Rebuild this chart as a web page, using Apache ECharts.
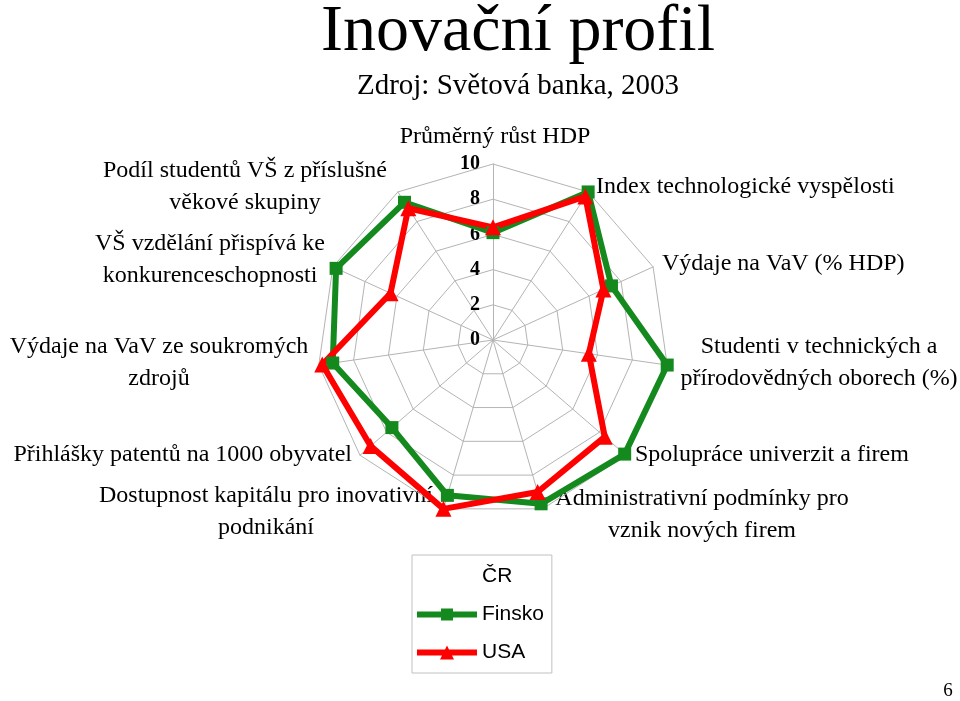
<!DOCTYPE html>
<html>
<head>
<meta charset="utf-8">
<title>Inovační profil</title>
<script src="https://cdn.jsdelivr.net/npm/echarts@6/dist/echarts.min.js"></script>
<style>
  html, body { margin: 0; padding: 0; background: #fff; }
  #radar-chart { width: 960px; height: 701px; }
</style>
</head>
<body>
<div id="radar-chart"></div>
<script>
// osy v pořadí po směru hodinových ručiček, začíná se nahoře
var labels = [
    'Průměrný růst HDP',
    'Index technologické vyspělosti',
    'Výdaje na VaV (% HDP)',
    'Studenti v technických a\npřírodovědných oborech (%)',
    'Spolupráce univerzit a firem',
    'Administrativní podmínky pro\nvznik nových firem',
    'Dostupnost kapitálu pro inovativní\npodnikání',
    'Přihlášky patentů na 1000 obyvatel',
    'Výdaje na VaV ze soukromých\nzdrojů',
    'VŠ vzdělání přispívá ke\nkonkurenceschopnosti',
    'Podíl studentů VŠ z příslušné\nvěkové skupiny'
];
var seriesNames = ['ČR', 'Finsko', 'USA'];
var cr = [];
var finsko = [6.1, 10.0, 7.4, 10.0, 9.9, 9.7, 9.2, 7.6, 9.2, 9.8, 9.3];
var usa = [6.4, 9.7, 6.9, 5.5, 8.4, 9.0, 10.0, 9.2, 9.8, 6.4, 8.9];
var axisMax = 10;

// kde stojí popisky os (x, y = horní hrana textu, zarovnání)
var labelPos = [
    [495, 121, 'center'],
    [596, 171, 'left'],
    [662, 248, 'left'],
    [819, 331, 'center'],
    [635, 439, 'left'],
    [702, 483, 'center'],
    [266, 480, 'center'],
    [352, 439, 'right'],
    [159, 331, 'center'],
    [210, 228, 'center'],
    [245, 155, 'center']
];

// echarts kreslí radar proti směru hodin -> pořadí otočíme (první osa zůstává nahoře)
function ccw(arr) {
    if (!arr.length) return arr;
    return [arr[0]].concat(arr.slice(1).reverse());
}

var indicators = ccw(labels).map(function (name, i) {
    var ind = { name: name, min: 0, max: axisMax };
    if (i === 0) {
        ind.axisLabel = {
            show: true,
            color: '#000',
            fontFamily: 'Liberation Serif',
            fontWeight: 'bold',
            fontSize: 20,
            margin: 13
        };
    }
    return ind;
});

var graphics = [
    { type: 'text', x: 518, y: 33, style: { text: 'Inovační profil', font: '66px "Liberation Serif"', fill: '#000', align: 'center', verticalAlign: 'middle' } },
    { type: 'text', x: 518, y: 86, style: { text: 'Zdroj: Světová banka, 2003', font: '29px "Liberation Serif"', fill: '#000', align: 'center', verticalAlign: 'middle' } },
    { type: 'text', x: 948, y: 691, style: { text: '6', font: '19px "Liberation Serif"', fill: '#000', align: 'center', verticalAlign: 'middle' } }
];
labels.forEach(function (name, i) {
    graphics.push({
        type: 'text',
        x: labelPos[i][0],
        y: labelPos[i][1],
        style: {
            text: name,
            font: '24px "Liberation Serif"',
            lineHeight: 32,
            fill: '#000',
            align: labelPos[i][2],
            verticalAlign: 'top'
        }
    });
});

var squareIcon = 'path://M0,4L60,4L60,10L0,10Z M24,1L36,1L36,13L24,13Z';
var triangleIcon = 'path://M0,4L60,4L60,10L0,10Z M30,0L37,14L23,14Z';

var myChart = echarts.init(document.getElementById('radar-chart'));
var option = {
    animation: false,
    backgroundColor: '#fff',
    graphic: graphics,
    legend: {
        orient: 'vertical',
        left: 412,
        top: 555,
        padding: [11, 8, 10, 5],
        itemWidth: 60,
        itemHeight: 14,
        itemGap: 17,
        borderColor: '#c0c0c0',
        borderWidth: 1,
        selectedMode: false,
        textStyle: { fontFamily: 'Liberation Sans', fontSize: 21, color: '#000' },
        data: [
            { name: seriesNames[0], icon: 'rect', itemStyle: { color: 'rgba(0,0,0,0)', opacity: 0 } },
            { name: seriesNames[1], icon: squareIcon },
            { name: seriesNames[2], icon: triangleIcon }
        ]
    },
    radar: {
        center: [493, 340],
        radius: 176,
        shape: 'polygon',
        splitNumber: 5,
        indicator: indicators,
        axisName: { show: false },
        axisLine: { lineStyle: { color: '#b4b4b4', width: 1 } },
        splitLine: { lineStyle: { color: '#b4b4b4', width: 1 } },
        splitArea: { show: false },
        axisTick: { show: false },
        axisLabel: { show: false }
    },
    series: [
        {
            type: 'radar',
            silent: true,
            color: 'rgba(0,0,0,0)',
            symbol: 'none',
            lineStyle: { width: 0 },
            data: [{ name: seriesNames[0], value: cr }]
        },
        {
            type: 'radar',
            silent: true,
            color: '#148a1e',
            symbol: 'rect',
            symbolSize: 13,
            lineStyle: { width: 6, color: '#148a1e' },
            itemStyle: { color: '#148a1e' },
            data: [{ name: seriesNames[1], value: ccw(finsko) }]
        },
        {
            type: 'radar',
            silent: true,
            color: '#ff0000',
            symbol: 'triangle',
            symbolSize: 16,
            lineStyle: { width: 6, color: '#ff0000' },
            itemStyle: { color: '#ff0000' },
            data: [{ name: seriesNames[2], value: ccw(usa) }]
        }
    ]
};
myChart.setOption(option);
</script>
</body>
</html>
